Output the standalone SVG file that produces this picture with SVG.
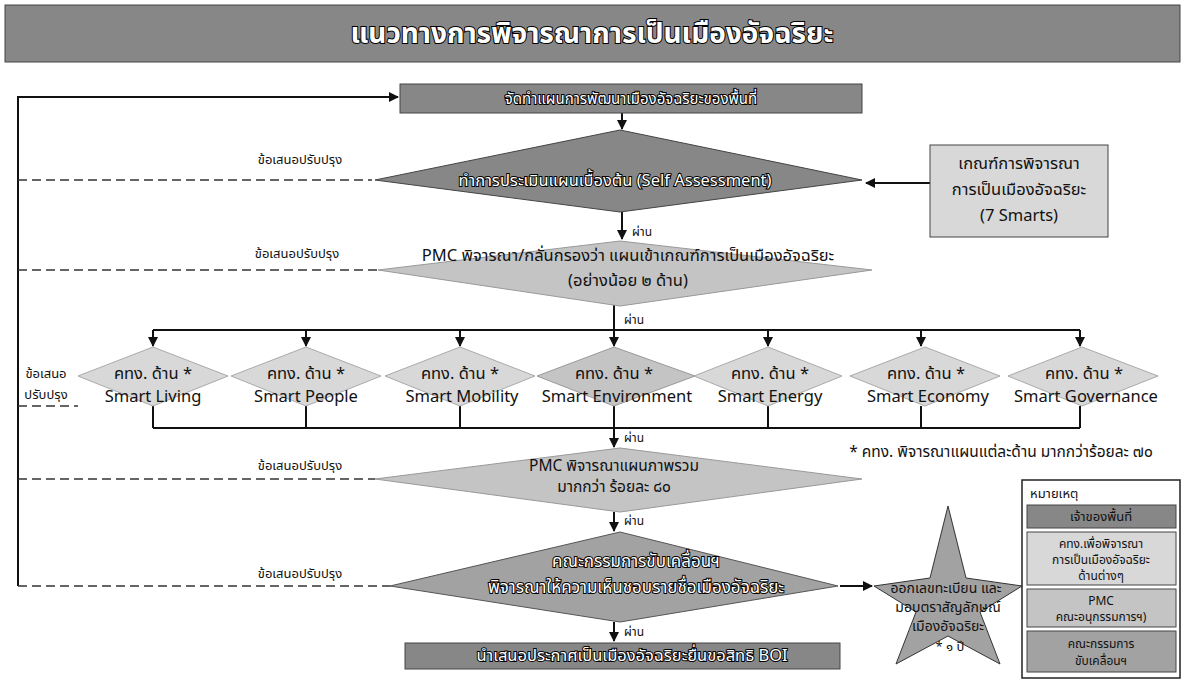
<svg xmlns="http://www.w3.org/2000/svg" width="1185" height="680" viewBox="0 0 1185 680">
<style>
text{font-family:"Noto Sans Thai","Noto Sans","DejaVu Sans",sans-serif;text-anchor:middle;fill:#111}
.w{fill:#fff;stroke:#000;stroke-width:2;paint-order:stroke fill}
.dark{fill:#878787;stroke:#444;stroke-width:1}
.mid{fill:#a2a2a2;stroke:#555;stroke-width:1}
.pmc{fill:#c4c4c4;stroke:#999;stroke-width:1}
.light{fill:#d8d8d8;stroke:#aaa;stroke-width:1}
.line{fill:none;stroke:#111;stroke-width:2}
.dash{fill:none;stroke:#333;stroke-width:1.6;stroke-dasharray:9 5}
.lbl{font-size:13px}
.ok{font-size:12px}
.t15{font-size:15px}
.sm{font-size:16.5px}
</style>
<defs>
<marker id="ah" viewBox="0 0 10 10" refX="9" refY="5" markerWidth="5" markerHeight="5" orient="auto-start-reverse">
<path d="M0,0 L10,5 L0,10 Z" fill="#111"/>
</marker>
</defs>

<g id="title">
<rect x="5" y="5" width="1175" height="57" class="dark"/>
<text x="592" y="43" class="w" style="font-size:28px;font-weight:bold">แนวทางการพิจารณาการเป็นเมืองอัจฉริยะ</text>
</g>

<g id="connectors">
<path class="line" d="M18,586 V97 H398" marker-end="url(#ah)"/>
<path class="line" d="M622,113 V129" marker-end="url(#ah)"/>
<path class="line" d="M930,183 H866" marker-end="url(#ah)"/>
<path class="line" d="M622,212 V239" marker-end="url(#ah)"/>
<path class="line" d="M614,304 V330"/>
<path class="line" d="M153,330 H1080"/>
<path class="line" d="M153,330 V346" marker-end="url(#ah)"/>
<path class="line" d="M306,330 V346" marker-end="url(#ah)"/>
<path class="line" d="M460,330 V346" marker-end="url(#ah)"/>
<path class="line" d="M614,330 V346" marker-end="url(#ah)"/>
<path class="line" d="M768,330 V346" marker-end="url(#ah)"/>
<path class="line" d="M921,330 V346" marker-end="url(#ah)"/>
<path class="line" d="M1080,330 V346" marker-end="url(#ah)"/>
<path class="line" d="M153,406 V428 M306,406 V428 M460,406 V428 M614,406 V428 M768,406 V428 M921,406 V428 M1080,406 V428"/>
<path class="line" d="M153,428 H1080"/>
<path class="line" d="M614,428 V447" marker-end="url(#ah)"/>
<path class="line" d="M614,512 V531" marker-end="url(#ah)"/>
<path class="line" d="M840,586 H872" marker-end="url(#ah)"/>
<path class="line" d="M614,622 V641" marker-end="url(#ah)"/>
<path class="dash" d="M18,180 H372"/>
<path class="dash" d="M18,270 H380"/>
<path class="dash" d="M18,406 H78"/>
<path class="dash" d="M18,479 H375"/>
<path class="dash" d="M18,586 H390"/>
<text x="642" y="236" class="ok">ผ่าน</text>
<text x="634" y="324" class="ok">ผ่าน</text>
<text x="634" y="442" class="ok">ผ่าน</text>
<text x="634" y="525" class="ok">ผ่าน</text>
<text x="634" y="636" class="ok">ผ่าน</text>
<text x="300" y="164" class="lbl">ข้อเสนอปรับปรุง</text>
<text x="297" y="258" class="lbl">ข้อเสนอปรับปรุง</text>
<text x="46" y="378" class="lbl">ข้อเสนอ</text>
<text x="46" y="399" class="lbl">ปรับปรุง</text>
<text x="300" y="470" class="lbl">ข้อเสนอปรับปรุง</text>
<text x="300" y="578" class="lbl">ข้อเสนอปรับปรุง</text>
</g>

<g id="plan">
<rect x="400" y="84" width="462" height="29" class="dark"/>
<text x="631" y="104" class="w t15">จัดทำแผนการพัฒนาเมืองอัจฉริยะของพื้นที่</text>
</g>

<g id="self-assessment">
<polygon points="375,180 620,130 862,180 620,212" class="dark"/>
<text x="615" y="186" class="w sm">ทำการประเมินแผนเบื้องต้น (Self Assessment)</text>
</g>

<g id="criteria">
<rect x="930" y="145" width="178" height="92" class="light" style="stroke:#444"/>
<text x="1019" y="169" style="font-size:16.5px">เกณฑ์การพิจารณา</text>
<text x="1019" y="195" style="font-size:16.5px">การเป็นเมืองอัจฉริยะ</text>
<text x="1019" y="221" style="font-size:16.5px">(7 Smarts)</text>
</g>

<g id="pmc-screen">
<polygon points="378,270 620,241 872,270 620,306" class="pmc"/>
<text x="628" y="261" style="font-size:16.5px">PMC พิจารณา/กลั่นกรองว่า แผนเข้าเกณฑ์การเป็นเมืองอัจฉริยะ</text>
<text x="628" y="286" style="font-size:16.5px">(อย่างน้อย ๒ ด้าน)</text>
</g>

<g id="smart-living">
<polygon points="78,376 153,347 228,376 153,406" class="light"/>
<text x="153" y="379" class="sm">คทง. ด้าน *</text>
<text x="153" y="402" class="sm">Smart Living</text>
</g>
<g id="smart-people">
<polygon points="231,376 306,347 381,376 306,406" class="light"/>
<text x="306" y="379" class="sm">คทง. ด้าน *</text>
<text x="306" y="402" class="sm">Smart People</text>
</g>
<g id="smart-mobility">
<polygon points="385,376 460,347 535,376 460,406" class="light"/>
<text x="460" y="379" class="sm">คทง. ด้าน *</text>
<text x="462" y="402" class="sm">Smart Mobility</text>
</g>
<g id="smart-environment">
<polygon points="537,376 614,347 695,376 614,406" class="pmc"/>
<text x="614" y="379" class="sm">คทง. ด้าน *</text>
<text x="617" y="402" class="sm">Smart Environment</text>
</g>
<g id="smart-energy">
<polygon points="694,376 768,347 842,376 768,406" class="light"/>
<text x="770" y="379" class="sm">คทง. ด้าน *</text>
<text x="770" y="402" class="sm">Smart Energy</text>
</g>
<g id="smart-economy">
<polygon points="850,376 925,347 1000,376 925,406" class="light"/>
<text x="926" y="379" class="sm">คทง. ด้าน *</text>
<text x="928" y="402" class="sm">Smart Economy</text>
</g>
<g id="smart-governance">
<polygon points="1008,376 1082,347 1158,376 1082,406" class="light"/>
<text x="1084" y="379" class="sm">คทง. ด้าน *</text>
<text x="1086" y="402" class="sm">Smart Governance</text>
</g>

<g id="note">
<text x="1001" y="457" style="font-size:15.5px">* คทง. พิจารณาแผนแต่ละด้าน มากกว่าร้อยละ ๗๐</text>
</g>

<g id="pmc-overall">
<polygon points="375,479 620,448 862,479 620,512" class="pmc"/>
<text x="614" y="471" style="font-size:15.5px">PMC พิจารณาแผนภาพรวม</text>
<text x="614" y="492" style="font-size:15.5px">มากกว่า ร้อยละ ๘๐</text>
</g>

<g id="committee">
<polygon points="390,586 620,532 838,586 620,622" class="mid"/>
<text x="636" y="567" class="w" style="font-size:17px">คณะกรรมการขับเคลื่อนฯ</text>
<text x="636" y="593" class="w" style="font-size:17px">พิจารณาให้ความเห็นชอบรายชื่อเมืองอัจฉริยะ</text>
</g>

<g id="boi">
<rect x="405" y="643" width="435" height="26" class="dark"/>
<text x="632" y="661" class="w" style="font-size:16.5px">นำเสนอประกาศเป็นเมืองอัจฉริยะยื่นขอสิทธิ BOI</text>
</g>

<g id="star">
<polygon points="948,506 966,578 1022,586 980,612 1000,664 948,636 896,664 916,612 874,586 930,578" class="mid" style="stroke:#333"/>
<text x="946" y="593" style="font-size:14px">ออกเลขทะเบียน และ</text>
<text x="948" y="612" style="font-size:14px">มอบตราสัญลักษณ์</text>
<text x="948" y="631" style="font-size:14px">เมืองอัจฉริยะ</text>
<text x="950" y="651" style="font-size:13px">* ๑ ปี</text>
</g>

<g id="legend">
<rect x="1022" y="480" width="158" height="198" fill="#fff" stroke="#222" stroke-width="1.5"/>
<text x="1030" y="498" style="font-size:13px;text-anchor:start">หมายเหตุ</text>
<rect x="1027" y="505" width="149" height="23" class="dark"/>
<text x="1101" y="521" style="font-size:13px">เจ้าของพื้นที่</text>
<rect x="1027" y="532" width="149" height="53" class="light" style="stroke:#444"/>
<text x="1101" y="548" style="font-size:12px">คทง.เพื่อพิจารณา</text>
<text x="1101" y="564" style="font-size:12px">การเป็นเมืองอัจฉริยะ</text>
<text x="1101" y="580" style="font-size:12px">ด้านต่างๆ</text>
<rect x="1027" y="589" width="149" height="38" class="pmc" style="stroke:#444"/>
<text x="1101" y="605" style="font-size:12px">PMC</text>
<text x="1101" y="621" style="font-size:12px">คณะอนุกรรมการฯ)</text>
<rect x="1027" y="631" width="149" height="41" class="mid" style="stroke:#444"/>
<text x="1101" y="648" style="font-size:12px">คณะกรรมการ</text>
<text x="1101" y="665" style="font-size:12px">ขับเคลื่อนฯ</text>
</g>
</svg>
